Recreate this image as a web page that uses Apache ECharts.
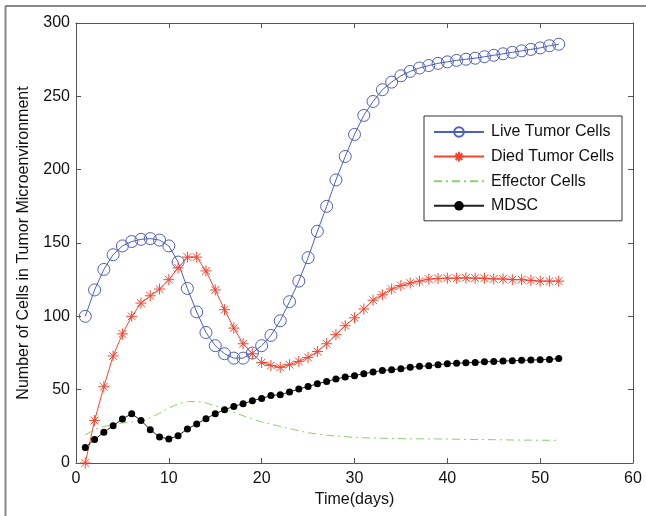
<!DOCTYPE html>
<html>
<head>
<meta charset="utf-8">
<script src="https://cdn.jsdelivr.net/npm/echarts@6/dist/echarts.min.js"></script>
<style>
  html, body { margin: 0; padding: 0; background: #fff; }
  #chart { width: 646px; height: 516px; }
</style>
</head>
<body>
<div id="chart"></div>
<script>
const days = [1, 2, 3, 4, 5, 6, 7, 8, 9, 10, 11, 12, 13, 14, 15, 16, 17, 18, 19, 20,
  21, 22, 23, 24, 25, 26, 27, 28, 29, 30, 31, 32, 33, 34, 35, 36, 37, 38, 39, 40,
  41, 42, 43, 44, 45, 46, 47, 48, 49, 50, 51, 52];

const liveTumor = [100, 118, 132, 142, 148, 151, 152.5, 153, 152, 148,
  137, 119, 103, 89, 80, 74.5, 71.5, 71.5, 75, 80,
  87, 97, 110, 124, 140, 158, 175, 193, 209, 224,
  237, 246.5, 254.5, 259.7, 264, 267, 269.3, 271, 272.5, 273.5,
  274.5, 275.3, 276, 277, 278, 279, 280, 281, 282, 283,
  284.5, 285.5];

const diedTumor = [0, 29, 52, 73, 88, 100, 109, 114, 118.6, 125,
  133, 140.4, 140.4, 131, 118, 104.5, 92, 81.3, 74.5, 68.5,
  66.5, 65.2, 67, 69.3, 72, 76, 81.3, 87.5, 93.6, 99,
  105, 111, 114.7, 118.6, 121, 122.7, 124, 125.4, 125.8, 126,
  126, 126.2, 126, 126, 125.5, 125.5, 125, 125, 124.5, 124,
  124, 124];

const effector = [19.3, 22.7, 25, 26, 27.3, 28, 28.4, 30.7, 34, 37.5,
  40.4, 41.8, 42, 40.9, 39, 36.8, 34.5, 32.2, 30, 28,
  26.5, 25, 23.5, 22, 20.6, 19.8, 19, 18.4, 18, 17.5,
  17.2, 17, 16.9, 16.8, 16.6, 16.5, 16.5, 16.4, 16.4, 16.3,
  16.2, 16.1, 16, 16, 15.9, 15.8, 15.7, 15.6, 15.6, 15.5,
  15.5, 15.5];

const mdsc = [10.6, 16, 21, 25.4, 30, 33.6, 29, 22.7, 17.7, 16.4,
  18.6, 23.2, 26.6, 30.2, 33.6, 36.3, 38.6, 40.4, 42.5, 44,
  46, 46.6, 48.4, 50.4, 52.2, 54, 55.6, 57.3, 58.6, 59.5,
  60.9, 62, 63.1, 63.6, 64.3, 65.2, 65.9, 66.3, 67, 67.7,
  68, 68.3, 68.6, 69, 69.2, 69.5, 69.7, 70, 70.2, 70.4,
  70.6, 71.2];

const seriesNames = ['Live Tumor Cells', 'Died Tumor Cells', 'Effector Cells', 'MDSC'];

const FONT = '"Liberation Sans", Arial, sans-serif';
const AXIS_COLOR = '#555';
const asterisk = 'path://M5,0 L5,10 M0,5 L10,5 M1.5,1.5 L8.5,8.5 M1.5,8.5 L8.5,1.5';

const pair = (vals) => days.map((d, i) => [d, vals[i]]);

const chart = echarts.init(document.getElementById('chart'), null, { renderer: 'canvas' });

function makeX(pos, withLabels) {
  return {
    type: 'value', position: pos,
    min: 0, max: 60, interval: 10,
    axisLine: { show: true, onZero: false, lineStyle: { color: AXIS_COLOR, width: 1 } },
    axisTick: { show: true, inside: true, length: 5, lineStyle: { color: AXIS_COLOR } },
    splitLine: { show: false },
    axisLabel: withLabels
      ? { fontFamily: FONT, fontSize: 16, color: '#111', margin: 8 }
      : { show: false }
  };
}
function makeY(pos, withLabels) {
  return {
    type: 'value', position: pos,
    min: 0, max: 300, interval: 50,
    axisLine: { show: true, onZero: false, lineStyle: { color: AXIS_COLOR, width: 1 } },
    axisTick: { show: true, inside: true, length: 5, lineStyle: { color: AXIS_COLOR } },
    splitLine: { show: false },
    axisLabel: withLabels
      ? { fontFamily: FONT, fontSize: 16, color: '#111', margin: 6 }
      : { show: false }
  };
}

const xMain = makeX('bottom', true);
xMain.name = 'Time(days)';
xMain.nameLocation = 'middle';
xMain.nameGap = 27;
xMain.nameTextStyle = { fontFamily: FONT, fontSize: 16, color: '#111' };

const yMain = makeY('left', true);
yMain.name = 'Number of Cells in Tumor Microenvironment';
yMain.nameLocation = 'middle';
yMain.nameGap = 44;
yMain.nameTextStyle = { fontFamily: FONT, fontSize: 16, color: '#111' };

chart.setOption({
  animation: false,
  backgroundColor: '#fff',
  textStyle: { fontFamily: FONT },
  grid: { left: 76, right: 13, top: 23, bottom: 53, containLabel: false },
  graphic: [
    { type: 'line', shape: { x1: 5.5, y1: 6, x2: 5.5, y2: 516 }, style: { stroke: '#888', lineWidth: 2 } },
    { type: 'line', shape: { x1: 5, y1: 6, x2: 646, y2: 6 }, style: { stroke: '#888', lineWidth: 2 } }
  ],
  legend: {
    orient: 'vertical',
    left: 424,
    top: 116,
    width: 201,
    padding: [8, 8, 7, 9],
    borderColor: '#333',
    borderWidth: 1,
    backgroundColor: '#fff',
    itemWidth: 50,
    itemHeight: 12,
    itemGap: 8.6,
    selectedMode: false,
    data: [
      seriesNames[0],
      seriesNames[1],
      { name: seriesNames[2], itemStyle: { color: 'rgba(0,0,0,0)', borderColor: 'rgba(0,0,0,0)', borderWidth: 0 } },
      { name: seriesNames[3], itemStyle: { color: '#000' } }
    ],
    textStyle: { fontFamily: FONT, fontSize: 16, lineHeight: 16, color: '#111', padding: [0, 0, 0, 2] }
  },
  xAxis: [xMain, makeX('top', false)],
  yAxis: [yMain, makeY('right', false)],
  series: [
    {
      name: seriesNames[0], type: 'line', xAxisIndex: 0, yAxisIndex: 0,
      data: pair(liveTumor),
      symbol: 'circle', symbolSize: 12,
      itemStyle: { color: 'rgba(0,0,0,0)', borderColor: '#4f5fbd', borderWidth: 1 },
      lineStyle: { color: '#4f5fbd', width: 1 }
    },
    {
      name: seriesNames[1], type: 'line', xAxisIndex: 0, yAxisIndex: 0,
      data: pair(diedTumor),
      symbol: asterisk, symbolSize: 11,
      itemStyle: { color: 'rgba(0,0,0,0)', borderColor: '#f5452f', borderWidth: 1 },
      lineStyle: { color: '#f5452f', width: 1 }
    },
    {
      name: seriesNames[2], type: 'line', xAxisIndex: 0, yAxisIndex: 0,
      data: pair(effector),
      symbol: 'none',
      itemStyle: { color: '#8fcf6e' },
      lineStyle: { color: '#8fcf6e', width: 1, type: [8, 4, 2, 4] }
    },
    {
      name: seriesNames[3], type: 'line', xAxisIndex: 0, yAxisIndex: 0,
      data: pair(mdsc),
      symbol: 'circle', symbolSize: 7,
      itemStyle: { color: '#000' },
      lineStyle: { color: '#222', width: 1 }
    }
  ]
});
</script>
</body>
</html>
